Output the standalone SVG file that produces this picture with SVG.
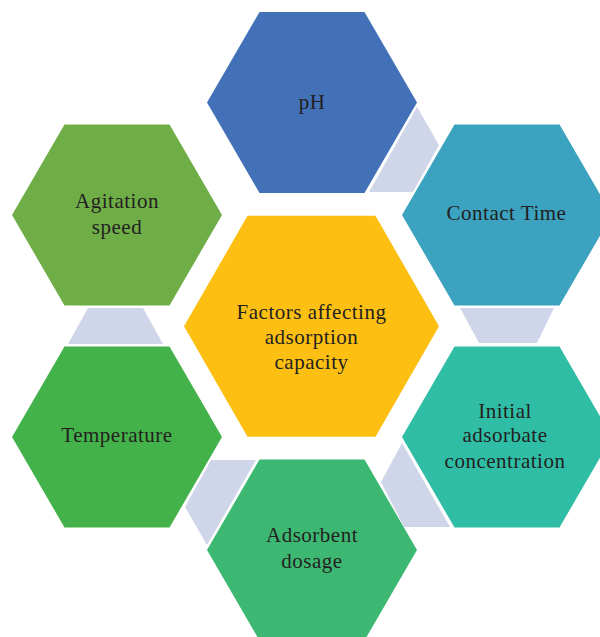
<svg xmlns="http://www.w3.org/2000/svg" xmlns:xlink="http://www.w3.org/1999/xlink" width="600" height="637" viewBox="0 0 600 637">
  <style>
    .lbl { font-family: "Liberation Serif", "Times New Roman", serif; font-size: 21px; letter-spacing: 0.5px; fill: #231f20; text-anchor: middle; }
    .link { fill: #d0d6ea; }
  </style>
  <defs>
    <!-- flat-topped hexagon, centred on the origin -->
    <polygon id="hex" points="-105,0 -52.5,-90.5 52.5,-90.5 105,0 52.5,90.5 -52.5,90.5"/>
    <polygon id="hexBig" points="-127.5,0 -64,-110.5 64,-110.5 127.5,0 64,110.5 -64,110.5"/>
  </defs>
  <rect width="600" height="637" fill="#ffffff"/>

  <!-- connectors between neighbouring hexagons -->
  <g id="connectors">
    <polygon class="link" points="417,107 439,145 413,192 369,192"/>
    <polygon class="link" points="460,308 554,308 537,343 479,343"/>
    <polygon class="link" points="402,443 381,482 404,527 450,527"/>
    <polygon class="link" points="211,460 256,460 207,545 185,507"/>
    <polygon class="link" points="88,308 143,308 163,344 68,344"/>
  </g>

  <g id="node-ph">
    <use xlink:href="#hex" x="312" y="102.5" fill="#4271b8"/>
    <text class="lbl" x="312" y="108.5">pH</text>
  </g>

  <g id="node-contact-time">
    <use xlink:href="#hex" x="507" y="215" fill="#3ba2bf"/>
    <text class="lbl" x="506.5" y="220">Contact Time</text>
  </g>

  <g id="node-agitation">
    <use xlink:href="#hex" x="117" y="215" fill="#6fad47"/>
    <text class="lbl" x="117" y="207.5">Agitation</text>
    <text class="lbl" x="117" y="233.5">speed</text>
  </g>

  <g id="node-center">
    <use xlink:href="#hexBig" x="311.5" y="326.3" fill="#fcbf12"/>
    <text class="lbl" x="311.5" y="319">Factors affecting</text>
    <text class="lbl" x="311.5" y="344">adsorption</text>
    <text class="lbl" x="311.5" y="368.5">capacity</text>
  </g>

  <g id="node-temperature">
    <use xlink:href="#hex" x="117" y="437" fill="#44b24a"/>
    <text class="lbl" x="117" y="442">Temperature</text>
  </g>

  <g id="node-initial-concentration">
    <use xlink:href="#hex" x="507" y="437" fill="#2fbda6"/>
    <text class="lbl" x="505" y="417.5">Initial</text>
    <text class="lbl" x="505" y="442">adsorbate</text>
    <text class="lbl" x="505" y="467.5">concentration</text>
  </g>

  <g id="node-dosage">
    <use xlink:href="#hex" x="312" y="550" fill="#3cb873"/>
    <text class="lbl" x="312" y="542">Adsorbent</text>
    <text class="lbl" x="312" y="568">dosage</text>
  </g>
</svg>
